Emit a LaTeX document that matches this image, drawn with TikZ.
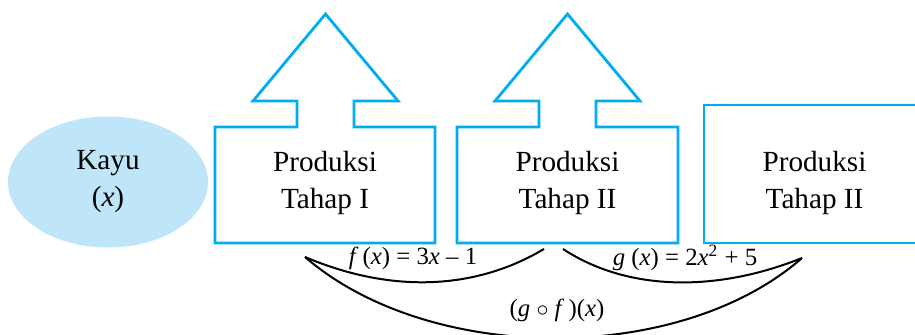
\documentclass[tikz,border=0pt]{standalone}
\usepackage{fontspec}
\setmainfont{Liberation Serif}
\usetikzlibrary{shapes.geometric}
\definecolor{prodblue}{RGB}{0,174,239}
\definecolor{kayufill}{RGB}{190,229,248}

\begin{document}
\begin{tikzpicture}[x=0.5pt, y=0.5pt,
  outline/.style={draw=prodblue, line width=1.4pt, line join=miter},
  stage/.style={font=\fontsize{14.6}{18.5}\selectfont, align=center, inner sep=0pt},
  fnlabel/.style={font=\fontsize{12.4}{15}\selectfont, inner sep=0pt},
  link/.style={line width=1pt}]
\useasboundingbox (0,0) rectangle (915,335);
\clip (0,0) rectangle (915,335);
% input
\node[ellipse, fill=kayufill, minimum width=100pt, minimum height=65.5pt, stage] (kayu) at (108,153) {Kayu\\(\textit{x})};
% stage one, with arrow on top
\node[stage] (tahap1) at (325,152) {Produksi\\Tahap I};
\draw[outline] (215,92) -- (215,208) -- (297,208) -- (297,234) -- (253,234) -- (325.5,321)
  -- (398,234) -- (354,234) -- (354,208) -- (435,208) -- (435,92) -- cycle;
% stage two, with arrow on top
\node[stage] (tahap2) at (567.5,152) {Produksi\\Tahap II};
\draw[outline] (457,92) -- (457,208) -- (539,208) -- (539,234) -- (495,234) -- (567.5,321)
  -- (640,234) -- (596,234) -- (596,208) -- (678,208) -- (678,92) -- cycle;
% last stage
\node[stage] (tahap3) at (814.5,152) {Produksi\\Tahap II};
\draw[outline] (704,92) rectangle (925,230);
% maps
\coordinate (f1) at (305,78);
\coordinate (f2) at (544,86);
\coordinate (g1) at (563,86);
\coordinate (g2) at (802,77);
\draw[link] (f1) .. controls (385,44) and (470,42) .. (f2);
\draw[link] (g1) .. controls (630,42) and (720,44) .. (g2);
\draw[link] (f1) .. controls (430,-30) and (680,-30) .. (g2);
\node[fnlabel] (fx) at (413,77) {\textit{f}\,(\textit{x}) = 3\textit{x} – 1};
\node[fnlabel] (gx) at (685,77) {\textit{g} (\textit{x}) = 2\textit{x}\textsuperscript{2} + 5};
\node[fnlabel] (gfx) at (557,25) {(\textit{g} $\circ$ \textit{f}\,)(\textit{x})};
\end{tikzpicture}
\end{document}
